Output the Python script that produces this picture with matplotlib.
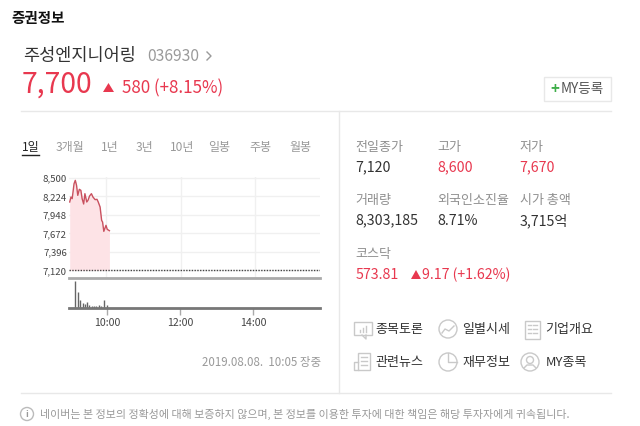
import matplotlib
matplotlib.use("Agg")
import matplotlib.pyplot as plt
from matplotlib.patches import Rectangle, Circle, Polygon

plt.rcParams['font.family'] = ['Noto Sans CJK KR', 'DejaVu Sans']

# ---- data ----
price_minutes = [1, 3, 5, 8, 10, 12, 14, 16.5, 19, 21, 23.5, 25.5, 28.5, 30.5, 33, 36, 38.5, 42, 45, 47,
                 50, 52.5, 54, 56, 59.5, 61.5, 65]
price_values = [8142, 8216, 8192, 8415, 8465, 8391, 8241, 8331, 8316, 8192, 8112, 8266, 8142, 8167, 8231,
                8266, 8216, 8177, 8182, 8142, 8067, 7868, 7843, 7704, 7794, 7734, 7714]
prev_close = 7120
y_ticks = [7120, 7396, 7672, 7948, 8224, 8500]
y_tick_labels = ['7,120', '7,396', '7,672', '7,948', '8,224', '8,500']
time_ticks = [60, 180, 300]
time_labels = ['10:00', '12:00', '14:00']
volume_minutes = [6.3, 11.2, 15.6, 19.5, 22.8, 26.6, 30.4, 34.3, 38.1, 42, 45.8, 49.6, 55, 59.5]
volume_values = [800, 490, 240, 150, 130, 170, 90, 70, 70, 70, 100, 70, 240, 90]
tabs = ['1일', '3개월', '1년', '3년', '10년', '일봉', '주봉', '월봉']
tab_x = [22, 56, 101, 136, 170, 209, 250, 290]
stat_rows = [
    [('전일종가', '7,120', 'k'), ('고가', '8,600', 'r'), ('저가', '7,670', 'r')],
    [('거래량', '8,303,185', 'k'), ('외국인소진율', '8.71%', 'k'), ('시가 총액', '3,715억', 'k')],
]
menu_rows = [['종목토론', '일별시세', '기업개요'], ['관련뉴스', '재무정보', 'MY종목']]

W, H = 640, 426
RED = '#e8384f'
DARK = '#333333'
GRAY = '#8f8f8f'
LINE = '#e8e8e8'
ICON = '#c9c9c9'
fig = plt.figure(figsize=(6.4, 4.26), dpi=100, facecolor='white')

def box(l, t, r, b):
    return [l / W, 1 - b / H, (r - l) / W, (b - t) / H]

def px(s):
    return s * 0.72

# page overlay in pixel units
bg = fig.add_axes([0, 0, 1, 1], zorder=0)
bg.set_xlim(0, W)
bg.set_ylim(H, 0)
bg.axis('off')

def T(x, y, s, size, color=DARK, ha='left', **kw):
    bg.text(x - 0.5, y + 0.7, s, fontsize=px(size), color=color, ha=ha, va='center', **kw)

T(12, 18, '증권정보', 14.5, '#111111', weight='bold')
T(24, 55, '주성엔지니어링', 17.5, '#333333', weight='medium')
T(148, 56, '036930', 15.6, '#9a9a9a')
bg.plot([207, 211, 207], [52, 56, 60], color='#9a9a9a', lw=1)
T(22, 84, '7,700', 28.2, RED)
bg.add_patch(Polygon([[103, 92], [114, 92], [108.5, 83]], color=RED, lw=0))
T(123, 88, '580 (+8.15%)', 17, RED)

# rules
bg.plot([21, 611], [111, 111], color=LINE, lw=1)
bg.plot([21, 611], [393, 393], color=LINE, lw=1)
bg.plot([338.5, 338.5], [111, 393], color=LINE, lw=1)

# MY button
bg.add_patch(Rectangle((543.5, 76.5), 67, 24, fc='white', ec=LINE, lw=1))
T(551, 88, '+', 15, '#3fae49', weight='bold')
T(561, 88, 'MY등록', 13.6, '#555555')

# tabs
for i, (s, x) in enumerate(zip(tabs, tab_x)):
    T(x, 147, s, 12, '#222222' if i == 0 else '#999999')
bg.plot([22, 39], [155, 155], color='#222222', lw=1)

# stats
stat_x = [356, 438, 520]
for row, y in zip(stat_rows, [147, 200]):
    for (label, value, c), x in zip(row, stat_x):
        T(x, y, label, 13, GRAY)
        T(x, y + 20, value, 14.2, RED if c == 'r' else DARK)
T(356, 254, '코스닥', 13, GRAY)
T(356, 274, '573.81', 14.2, RED)
bg.add_patch(Polygon([[411, 279], [421, 279], [416, 270]], color=RED, lw=0))
T(423, 274, '9.17 (+1.62%)', 14.2, RED)

# menu
menu_x = [376, 463, 546]
for row, y in zip(menu_rows, [329, 362]):
    for s, x in zip(row, menu_x):
        T(x, y, s, 13, '#333333')
# menu icons
bg.add_patch(Rectangle((354, 322), 18, 13, fc='none', ec=ICON, lw=1))
bg.plot([362, 366, 366], [335, 339, 335], color=ICON, lw=1)
bg.plot([360, 360], [332, 330], color=ICON, lw=1)
bg.plot([363, 363], [332, 328], color=ICON, lw=1)
bg.plot([366, 366], [332, 326], color=ICON, lw=1)
bg.add_patch(Circle((448, 329), 9, fc='none', ec=ICON, lw=1))
bg.plot([442, 445, 449, 454], [333, 329, 331, 326], color=ICON, lw=1)
bg.add_patch(Rectangle((525, 321), 15, 18, fc='none', ec=ICON, lw=1))
for yy in [325, 329, 333]:
    bg.plot([528, 531], [yy, yy], color=ICON, lw=1)
    bg.plot([533, 537], [yy, yy], color=ICON, lw=1)
bg.add_patch(Rectangle((358, 353), 12, 17, fc='none', ec=ICON, lw=1))
bg.plot([358, 354, 354, 358], [362, 362, 370, 370], color=ICON, lw=1)
for yy in [357, 361, 365]:
    bg.plot([361, 367], [yy, yy], color=ICON, lw=1)
bg.add_patch(Circle((448, 362), 9, fc='none', ec=ICON, lw=1))
bg.plot([448, 448, 457], [353, 362, 362], color=ICON, lw=1)
bg.add_patch(Circle((530, 362), 9, fc='none', ec=ICON, lw=1))
bg.add_patch(Circle((530, 360), 3.5, fc='none', ec=ICON, lw=1))
bg.plot([524, 527, 533, 536], [368, 365, 365, 368], color=ICON, lw=1)

T(322, 362, '2019.08.08.  10:05 장중', 11.5, '#999999', ha='right')

# footer
bg.add_patch(Circle((27, 414), 6.5, fc='none', ec='#bbbbbb', lw=1))
T(27, 414, 'i', 9, '#999999', ha='center', weight='bold')
T(40, 414, '네이버는 본 정보의 정확성에 대해 보증하지 않으며, 본 정보를 이용한 투자에 대한 책임은 해당 투자자에게 귀속됩니다.',
  11.0, '#999999')

# price panel: 0 min = x 69.1, 0.62 px per minute; 18.5 px per 276 won
ax = fig.add_axes(box(69, 177, 320, 278), zorder=2)
ax.patch.set_alpha(0)
ax.set_xlim(-0.15, (320 - 69.1) / 0.62)
ax.set_ylim(7120 - 7.5 / 18.5 * 276, 8500 + 1 / 18.5 * 276)
ax.fill_between(price_minutes, price_values, prev_close, color='#fde3e6', lw=0, zorder=2)
ax.plot(price_minutes, price_values, color='#c9515f', lw=1, zorder=4)
ax.axhline(prev_close, color='#444444', lw=1, ls=(0, (1, 1)), zorder=5)
ax.set_yticks(y_ticks, y_tick_labels)
ax.set_xticks(time_ticks)
ax.grid(True, color='#f0f0f0', lw=1, zorder=1)
ax.set_axisbelow(True)
ax.tick_params(axis='y', length=0, pad=1.5, labelsize=px(9.6), labelcolor='#444444')
ax.tick_params(axis='x', length=0, labelbottom=False)
for side in ['top', 'left', 'right']:
    ax.spines[side].set_visible(False)
ax.spines['bottom'].set_color('#aaaaaa')
ax.spines['bottom'].set_linewidth(2)

# volume panel
vx = fig.add_axes(box(69, 279, 320, 308), zorder=2)
vx.patch.set_alpha(0)
vx.set_xlim(-3, (320 - 70.8) / 0.608)
vx.set_ylim(0, 870)
vx.vlines(volume_minutes, 0, volume_values, color='#666666', lw=1)
vx.set_yticks([])
vx.set_xticks(time_ticks, time_labels)
vx.tick_params(axis='x', length=5, width=1, color='#aaaaaa', pad=2, labelsize=px(10.5), labelcolor='#444444')
for side in ['top', 'left', 'right']:
    vx.spines[side].set_visible(False)
vx.spines['bottom'].set_color('#777777')
vx.spines['bottom'].set_linewidth(2)

fig.savefig('out.png', dpi=100)
